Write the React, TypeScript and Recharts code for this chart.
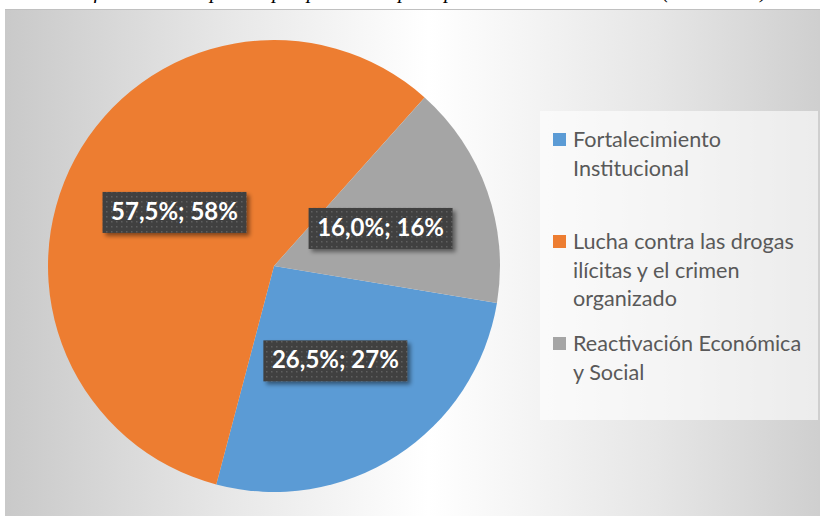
import React from 'react';
import { PieChart, Pie, Cell, Legend } from 'recharts';

const categories = [
  'Fortalecimiento\nInstitucional',
  'Lucha contra las drogas\nilícitas y el crimen\norganizado',
  'Reactivación Económica\ny Social',
];
const shares = [26.5, 57.5, 16.0];
const roundedShares = [27, 58, 16];
const COLORS = ['#5B9BD5', '#ED7D31', '#A5A5A5'];

const TITLE = 'Gráfico 3. Participación por pilar en el presupuesto del Plan Nacional (2015-2018)';

const data = categories.map((name, i) => ({
  name,
  value: shares[i],
  rounded: roundedShares[i],
}));

const RADIAN = Math.PI / 180;

const renderLabel = (props: any) => {
  const { cx, cy, midAngle, outerRadius, index } = props;
  const r = outerRadius * 0.5;
  const x = cx + r * Math.cos(-midAngle * RADIAN);
  const y = cy + r * Math.sin(-midAngle * RADIAN);
  const d = data[index];
  const text = `${d.value.toFixed(1).replace('.', ',')}%; ${d.rounded}%`;
  const w = 144;
  const h = 41;
  return (
    <g>
      <rect x={x - w / 2} y={y - h / 2} width={w} height={h} fill="url(#dots)" filter="url(#shadow)" />
      <text
        x={x}
        y={y + 1}
        fill="#ffffff"
        textAnchor="middle"
        dominantBaseline="middle"
        style={{ fontFamily: 'Lato, sans-serif', fontWeight: 700, fontSize: 24 }}
      >
        {text}
      </text>
    </g>
  );
};

const renderLegend = () => (
  <div
    style={{
      width: '100%',
      height: '100%',
      background: 'rgba(255,255,255,0.6)',
      boxSizing: 'border-box',
      paddingTop: 14,
      fontFamily: 'Lato, sans-serif',
      fontSize: 21.6,
      color: '#595959',
    }}
  >
    {data.map((d, i) => (
      <div key={i} style={{ height: 102, display: 'flex', alignItems: 'flex-start' }}>
        <div style={{ width: 13, height: 13, background: COLORS[i], marginLeft: 13, marginTop: 8, flexShrink: 0 }} />
        <div style={{ marginLeft: 7, whiteSpace: 'pre-line', lineHeight: '28.5px' }}>{d.name}</div>
      </div>
    ))}
  </div>
);

export default function App() {
  return (
    <div style={{ position: 'absolute', left: 0, top: 0, width: 820, height: 516, overflow: 'hidden', background: '#fff' }}>
      <div
        style={{
          position: 'absolute',
          left: 60,
          top: -19,
          whiteSpace: 'nowrap',
          fontFamily: '"Liberation Serif", serif',
          fontStyle: 'italic',
          fontSize: 21,
          lineHeight: 1,
          color: '#000',
        }}
      >
        {TITLE}
      </div>
      <div
        style={{
          position: 'absolute',
          left: 5,
          top: 9,
          width: 815,
          height: 507,
          borderTop: '1px solid #c0c0c0',
          background: 'linear-gradient(90deg, #c9c9c9 0%, #e8e8e8 28%, #ffffff 52%, #e6e6e6 80%, #cfcfcf 100%)',
        }}
      />
      <div style={{ position: 'absolute', left: 0, top: 0 }}>
        <PieChart width={820} height={516} margin={{ top: 0, right: 0, bottom: 0, left: 0 }}>
          <defs>
            <pattern id="dots" width="5" height="5" patternUnits="userSpaceOnUse">
              <rect width="5" height="5" fill="#404040" />
              <rect x="1" y="1" width="1.5" height="1.5" fill="#5e5e5e" />
            </pattern>
            <filter id="shadow" x="-20%" y="-30%" width="140%" height="170%">
              <feDropShadow dx="3" dy="3" stdDeviation="2" floodColor="#000" floodOpacity="0.45" />
            </filter>
          </defs>
          <Pie
            data={data}
            dataKey="value"
            nameKey="name"
            cx={274}
            cy={266}
            outerRadius={226}
            startAngle={-9.4}
            endAngle={-369.4}
            stroke="none"
            labelLine={false}
            label={renderLabel}
            isAnimationActive={false}
          >
            {data.map((_, i) => (
              <Cell key={i} fill={COLORS[i]} />
            ))}
          </Pie>
          <Legend
            content={renderLegend}
            wrapperStyle={{ left: 540, top: 111, width: 278, height: 309 }}
          />
        </PieChart>
      </div>
    </div>
  );
}
